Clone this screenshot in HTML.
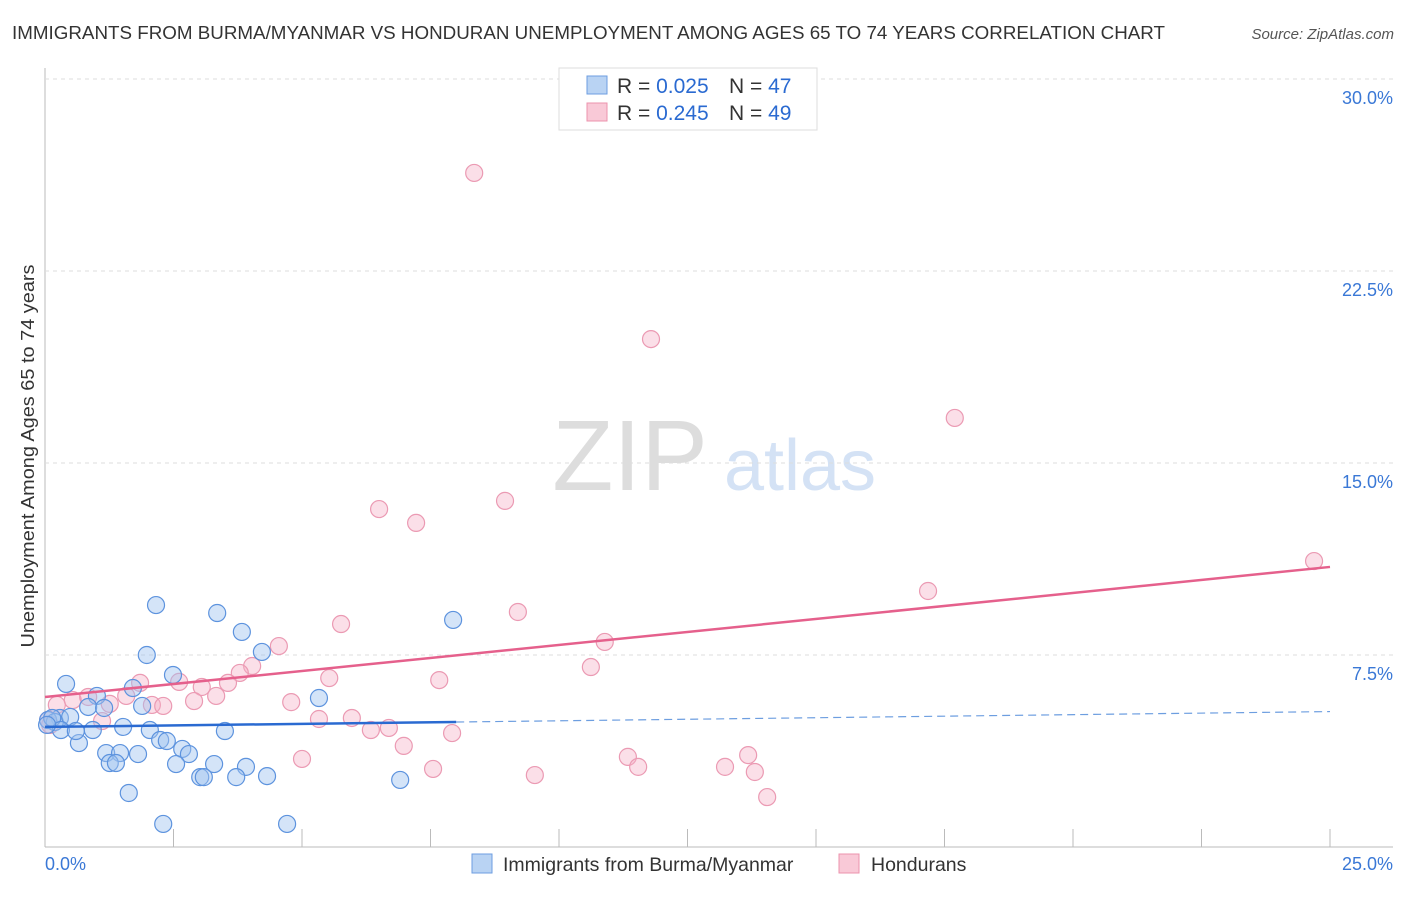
<!DOCTYPE html>
<html><head><meta charset="utf-8"><style>
body{margin:0;background:#fff;font-family:"Liberation Sans",sans-serif;}
svg text{font-family:"Liberation Sans",sans-serif;}
</style></head><body>
<svg id="chart" width="1406" height="892">
<text x="12" y="39" font-size="18" fill="#333" textLength="1153" lengthAdjust="spacingAndGlyphs">IMMIGRANTS FROM BURMA/MYANMAR VS HONDURAN UNEMPLOYMENT AMONG AGES 65 TO 74 YEARS CORRELATION CHART</text>
<text x="1394" y="39" font-size="15" fill="#555" font-style="italic" text-anchor="end">Source: ZipAtlas.com</text>
<text x="630" y="490" font-size="100" fill="#ddd" font-family="Liberation Serif" text-anchor="middle">ZIP</text>
<text x="800" y="490" font-size="72" fill="#d4e2f5" text-anchor="middle">atlas</text>
<text transform="translate(34,456) rotate(-90)" font-size="18" fill="#333" text-anchor="middle" textLength="383" lengthAdjust="spacingAndGlyphs">Unemployment Among Ages 65 to 74 years</text>
<g id="grid"></g><g id="marks"></g>
<g>
<rect x="559" y="68" width="258" height="62" fill="#fff" stroke="#ddd"/>
<rect x="587" y="76" width="20" height="18" fill="#b9d3f3" stroke="#6d9ee0"/>
<rect x="587" y="103" width="20" height="18" fill="#f9c9d7" stroke="#ec93ae"/>
<text x="617" y="93" font-size="21" fill="#333">R = <tspan fill="#2a6ad1">0.025</tspan></text>
<text x="729" y="93" font-size="21" fill="#333">N = <tspan fill="#2a6ad1">47</tspan></text>
<text x="617" y="120" font-size="21" fill="#333">R = <tspan fill="#2a6ad1">0.245</tspan></text>
<text x="729" y="120" font-size="21" fill="#333">N = <tspan fill="#2a6ad1">49</tspan></text>
</g>
<g>
<rect x="472" y="854" width="20" height="19" fill="#b9d3f3" stroke="#6d9ee0"/>
<text x="503" y="871" font-size="19.5" fill="#333">Immigrants from Burma/Myanmar</text>
<rect x="839" y="854" width="20" height="19" fill="#f9c9d7" stroke="#ec93ae"/>
<text x="871" y="871" font-size="19.5" fill="#333">Hondurans</text>
</g>
</svg>
<script>
const yTicks=[7.5,15,22.5,30];
const yTickLabels=["7.5%","15.0%","22.5%","30.0%"];
const xTickCount=10;
const xEndLabels=["0.0%","25.0%"];
const blueX=[2.16,3.35,3.83,1.98,4.22,7.94,0.41,2.49,1.71,1.01,1.89,5.33,3.50,1.52,2.04,0.93,0.66,2.24,2.37,1.19,1.46,1.81,2.67,2.80,1.26,1.38,2.55,3.29,3.91,3.02,3.09,3.72,4.32,6.91,1.63,2.30,4.71,0.29,0.06,0.19,0.49,0.14,0.31,0.84,1.15,0.04,0.60];
const blueY=[9.45,9.14,8.40,7.50,7.62,8.87,6.37,6.72,6.21,5.90,5.51,5.82,4.53,4.69,4.57,4.57,4.06,4.18,4.14,3.67,3.67,3.63,3.83,3.63,3.28,3.28,3.24,3.24,3.13,2.73,2.73,2.73,2.77,2.62,2.11,0.90,0.90,5.04,4.96,4.88,5.08,5.04,4.57,5.47,5.43,4.77,4.53];
const pinkX=[8.35,11.79,17.70,24.69,8.95,6.50,7.22,17.18,9.20,5.76,10.89,4.55,4.03,10.62,5.53,3.79,3.56,2.61,3.05,1.85,3.33,1.58,1.26,2.90,4.79,7.67,2.08,2.30,1.11,5.33,5.97,6.69,6.34,7.92,6.98,5.00,11.34,13.68,11.54,13.23,7.55,13.81,9.53,14.05,0.06,0.10,0.54,0.84,0.23];
const pinkY=[26.33,19.84,16.76,11.17,13.52,13.20,12.66,10.00,9.18,8.71,8.01,7.85,7.07,7.03,6.60,6.80,6.41,6.45,6.25,6.41,5.90,5.90,5.59,5.70,5.66,6.52,5.55,5.51,4.92,5.00,5.04,4.65,4.57,4.45,3.95,3.44,3.52,3.59,3.13,3.13,3.05,2.93,2.81,1.95,4.96,4.77,5.74,5.86,5.55];
const blueTrend=[4.69,0.024];
const pinkTrend=[5.86,0.2032];
const blueSolidEnd=8.0, xMax=25;

const NS="http://www.w3.org/2000/svg";
const X=v=>45+v/25*1285, Y=v=>847-v*25.6;
function mk(p,t,a){const e=document.createElementNS(NS,t);for(const k in a)e.setAttribute(k,a[k]);p.appendChild(e);return e;}
const grid=document.getElementById('grid'), marks=document.getElementById('marks');
let ax=mk(grid,'line',{x1:45,y1:68,x2:45,y2:847,stroke:'#bbb'});


let bx=mk(grid,'line',{x1:45,y1:847,x2:1393,y2:847,stroke:'#bbb'});


yTicks.forEach((t,i)=>{
 const g=mk(grid,'line',{x1:45,y1:Y(t),x2:1393,y2:Y(t),stroke:'#ddd','stroke-dasharray':'4,4'});
 
 
 const l=mk(grid,'text',{x:1393,y:Y(t)+25,'font-size':18,fill:'#3a78d6','text-anchor':'end'});
 l.textContent=yTickLabels[i];
 
 
});
for(let i=1;i<=xTickCount;i++){
 const xx=X(i*xMax/xTickCount);
 const t=mk(grid,'line',{x1:xx,y1:829,x2:xx,y2:847,stroke:'#bbb'});
 
 
}
let x0=mk(grid,'text',{x:45,y:870,'font-size':18,fill:'#3a78d6'});x0.textContent=xEndLabels[0];


let x1=mk(grid,'text',{x:1393,y:870,'font-size':18,fill:'#3a78d6','text-anchor':'end'});x1.textContent=xEndLabels[1];



pinkX.forEach((v,i)=>{
 const c=mk(marks,'circle',{cx:X(v),cy:Y(pinkY[i]),r:8.5,fill:'rgba(246,176,198,0.4)',stroke:'#eb9ab3','stroke-width':1.2});
 
 
});
blueX.forEach((v,i)=>{
 const c=mk(marks,'circle',{cx:X(v),cy:Y(blueY[i]),r:8.5,fill:'rgba(160,196,240,0.45)',stroke:'#5d93de','stroke-width':1.2});
 
 
});
const f=(tr,x)=>tr[0]+tr[1]*x;
let pl=mk(marks,'line',{x1:X(0),y1:Y(f(pinkTrend,0)),x2:X(xMax),y2:Y(f(pinkTrend,xMax)),stroke:'#e5608c','stroke-width':2.5});


let bl=mk(marks,'line',{x1:X(0),y1:Y(f(blueTrend,0)),x2:X(blueSolidEnd),y2:Y(f(blueTrend,blueSolidEnd)),stroke:'#2a6ad1','stroke-width':2.5});


let bd=mk(marks,'line',{x1:X(blueSolidEnd),y1:Y(f(blueTrend,blueSolidEnd)),x2:X(xMax),y2:Y(f(blueTrend,xMax)),stroke:'#6d9ee0','stroke-width':1.2,'stroke-dasharray':'8,5'});


</script>
</body></html>
